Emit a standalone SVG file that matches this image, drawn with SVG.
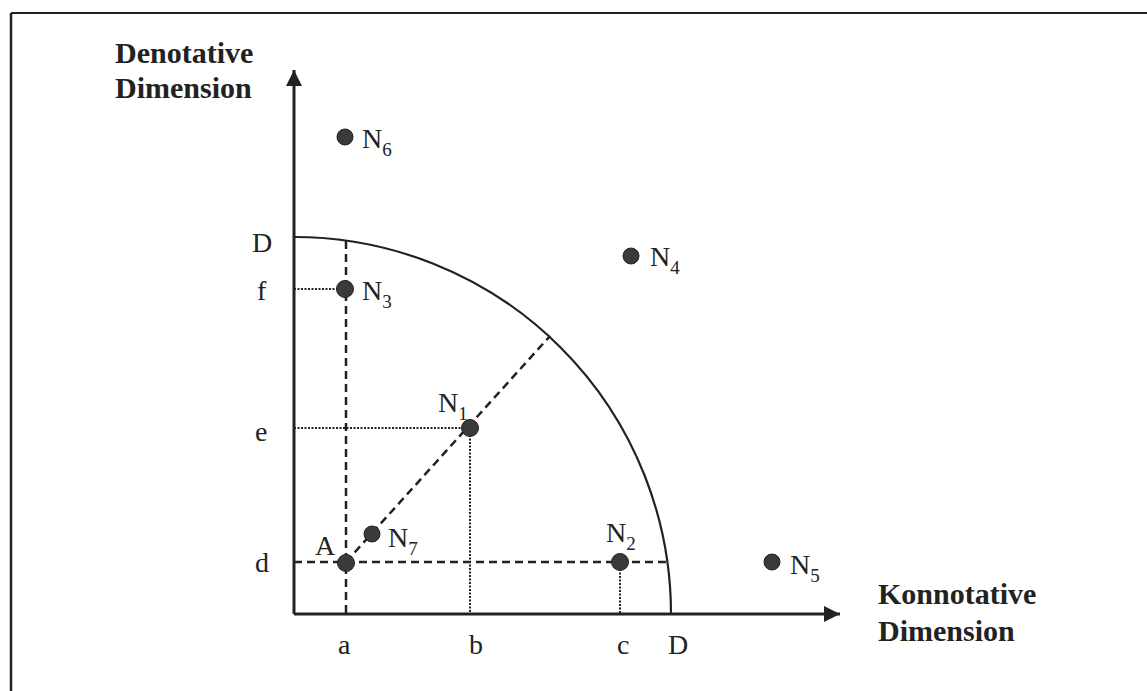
<svg xmlns="http://www.w3.org/2000/svg" width="1147" height="691" viewBox="0 0 1147 691">
<style>
.t{font-family:"Liberation Serif","Times New Roman",serif;font-size:28px;fill:#222}
.b{font-weight:bold;font-size:30px}
.s{font-size:19px}
.ax{stroke:#222;stroke-width:3;fill:none}
.dash{stroke:#222;stroke-width:2.5;stroke-dasharray:8,5;fill:none}
.dot{stroke:#222;stroke-width:2;stroke-dasharray:2,1.5;fill:none}
.pt{fill:#3a3a3a;stroke:#222;stroke-width:1}
</style>
<defs>
<marker id="ah" viewBox="0 0 10 10" refX="10" refY="5" markerWidth="16" markerHeight="16" markerUnits="userSpaceOnUse" orient="auto">
<path d="M0,0 L10,5 L0,10 z" fill="#222"/>
</marker>
</defs>
<rect width="1147" height="691" fill="#fff"/>
<g id="frame">
<line x1="11" y1="13" x2="1147" y2="13" stroke="#222" stroke-width="2"/>
<line x1="11" y1="13" x2="11" y2="691" stroke="#222" stroke-width="2.5"/>
</g>
<g id="connectors">
<line class="ax" x1="294" y1="614" x2="294" y2="70" marker-end="url(#ah)"/>
<line class="ax" x1="294" y1="614" x2="840" y2="614" marker-end="url(#ah)"/>
<path d="M294,237 A377,377 0 0 1 671,614" stroke="#222" stroke-width="2.2" fill="none"/>
<line class="dash" x1="346" y1="241" x2="346" y2="614"/>
<line class="dash" x1="294" y1="562" x2="667" y2="562"/>
<line class="dash" x1="346" y1="562" x2="550" y2="336"/>
<line class="dot" x1="294" y1="428" x2="470" y2="428"/>
<line class="dot" x1="470" y1="428" x2="470" y2="614"/>
<line class="dot" x1="620" y1="562" x2="620" y2="614"/>
<line class="dot" x1="294" y1="289" x2="345" y2="289"/>
</g>
<g id="axis-labels">
<text class="t b" x="115" y="63">Denotative</text>
<text class="t b" x="115" y="98">Dimension</text>
<text class="t b" x="878" y="604">Konnotative</text>
<text class="t b" x="878" y="641">Dimension</text>
<text class="t" x="252" y="252">D</text>
<text class="t" x="257" y="300">f</text>
<text class="t" x="255" y="441">e</text>
<text class="t" x="255" y="572">d</text>
<text class="t" x="338" y="654">a</text>
<text class="t" x="469" y="654">b</text>
<text class="t" x="617" y="654">c</text>
<text class="t" x="668" y="654">D</text>
</g>
<g id="A"><circle class="pt" cx="346" cy="563" r="8.5"/><text class="t" x="315" y="555">A</text></g>
<g id="N1"><circle class="pt" cx="470" cy="428" r="8.5"/><text class="t" x="438" y="412">N<tspan class="s" dy="8">1</tspan></text></g>
<g id="N2"><circle class="pt" cx="620" cy="562" r="8.5"/><text class="t" x="606" y="542">N<tspan class="s" dy="8">2</tspan></text></g>
<g id="N3"><circle class="pt" cx="345" cy="289" r="8.5"/><text class="t" x="362" y="300">N<tspan class="s" dy="8">3</tspan></text></g>
<g id="N4"><circle class="pt" cx="631" cy="256" r="8"/><text class="t" x="650" y="266">N<tspan class="s" dy="8">4</tspan></text></g>
<g id="N5"><circle class="pt" cx="772" cy="562" r="8"/><text class="t" x="790" y="574">N<tspan class="s" dy="8">5</tspan></text></g>
<g id="N6"><circle class="pt" cx="345" cy="137" r="8"/><text class="t" x="362" y="148">N<tspan class="s" dy="8">6</tspan></text></g>
<g id="N7"><circle class="pt" cx="372" cy="534" r="8"/><text class="t" x="388" y="547">N<tspan class="s" dy="8">7</tspan></text></g>
</svg>
